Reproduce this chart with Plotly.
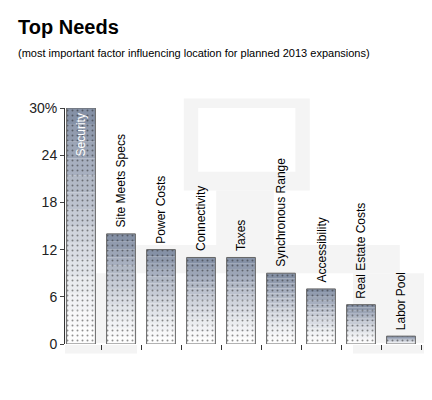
import plotly.graph_objects as go

categories = ["Security", "Site Meets Specs", "Power Costs", "Connectivity", "Taxes",
              "Synchronous Range", "Accessibility", "Real Estate Costs", "Labor Pool"]
values = [30, 14, 12, 11, 11, 9, 7, 5, 1]
tick_vals = [0, 6, 12, 18, 24, 30]
tick_text = ["0", "6", "12", "18", "24", "30%"]

# gradient faked with slices, white at bottom -> grey blue at top
n_steps = 14
top = (128, 140, 162)
fig = go.Figure()
for s in range(n_steps):
    t = (s + 0.5) / n_steps
    col = "rgb({},{},{})".format(*[int(255 + (c - 255) * t ** 1.3) for c in top])
    fig.add_trace(go.Bar(
        x=categories, y=[v / n_steps for v in values], base=[v * s / n_steps for v in values],
        marker=dict(color=col, line=dict(width=0),
                    pattern=dict(shape=".", fgcolor="#222", size=5, solidity=0.12)),
        width=0.72, showlegend=False, hoverinfo="skip"))
# outline
fig.add_trace(go.Bar(x=categories, y=values, width=0.72, showlegend=False,
                     marker=dict(color="rgba(0,0,0,0)", line=dict(color="#666", width=1))))

for i, (c, v) in enumerate(zip(categories, values)):
    if i == 0:
        fig.add_annotation(x=c, y=v - 0.5, text=c, textangle=-90, showarrow=False,
                           yanchor="top", font=dict(color="white", size=12))
    else:
        fig.add_annotation(x=c, y=v + 0.5, text=c, textangle=-90, showarrow=False,
                           yanchor="bottom", font=dict(color="black", size=12))

fig.add_annotation(xref="paper", yref="paper", x=-0.135, y=1.40, xanchor="left", yanchor="top",
                   text="<b>Top Needs</b>", showarrow=False, font=dict(size=20, color="black"))
fig.add_annotation(xref="paper", yref="paper", x=-0.135, y=1.265, xanchor="left", yanchor="top",
                   text="(most important factor influencing location for planned 2013 expansions)",
                   showarrow=False, font=dict(size=11, color="black"))

# faint background computer
for x0, y0, x1, y1 in [(0.33, 0.65, 0.68, 1.04), (0.13, 0.30, 0.93, 0.42),
                       (0.42, 0.42, 0.58, 0.65), (0.0, -0.04, 0.2, 0.3), (0.80, -0.04, 1.0, 0.3)]:
    fig.add_shape(type="rect", xref="paper", yref="paper", x0=x0, y0=y0, x1=x1, y1=y1,
                  fillcolor="#f4f4f4", line=dict(width=0), layer="below")
fig.add_shape(type="rect", xref="paper", yref="paper", x0=0.37, y0=0.73, x1=0.64, y1=1.0,
              fillcolor="white", line=dict(width=0), layer="below")

fig.update_layout(
    barmode="overlay",
    width=432, height=400, plot_bgcolor="white", paper_bgcolor="white",
    margin=dict(l=57, r=15, t=100, b=64),
    font=dict(family="Liberation Sans, Arial", size=12, color="#222"),
    xaxis=dict(showticklabels=False, ticks="outside", ticklen=5, tickcolor="#333",
               showline=False, showgrid=False, tickson="boundaries", range=[-0.4, 8.6]),
    yaxis=dict(range=[0, 30], tickvals=tick_vals, ticktext=tick_text, showgrid=False,
               showline=True, linecolor="#333", ticks="outside", ticklen=4,
               tickfont=dict(size=14)),
)
fig.write_html("out.html")
